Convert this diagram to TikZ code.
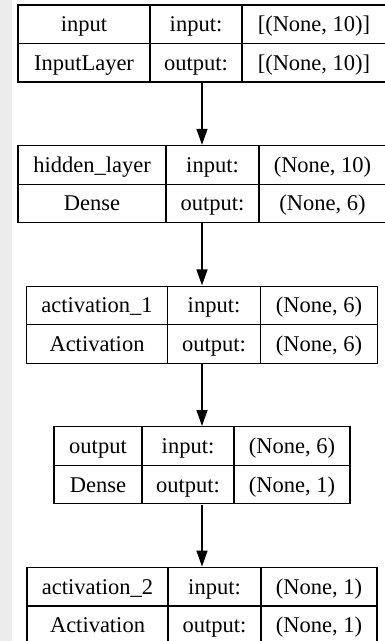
\documentclass[tikz,border=0pt]{standalone}
\usepackage{fontspec}
\setmainfont{Liberation Serif}
\newfontfamily\cellfont{Liberation Serif}
\usetikzlibrary{arrows.meta, positioning, matrix}
\definecolor{sidegray}{HTML}{ECECEC}

\begin{document}
\begin{tikzpicture}[
    x=1pt, y=-1pt,
    node distance=62pt,
    cell/.style={draw, line width=1.2pt, inner sep=0pt, outer sep=0pt, anchor=center, minimum height=38.5pt, text height=20pt, text depth=5pt, font=\cellfont\fontsize{22.5}{27}\selectfont},
    layer/.style={matrix of nodes, inner sep=0pt, column sep=-1.2pt, row sep=-1.2pt, nodes={cell}},
    widths/.style n args={3}{column 1/.style={nodes={minimum width=#1}}, column 2/.style={nodes={minimum width=#2}}, column 3/.style={nodes={minimum width=#3}}},
    arrow/.style={-{Triangle[length=16pt, width=11pt]}, line width=1.3pt}
]

% Page
\useasboundingbox (0,0) rectangle (384,641);
\fill[white] (0,0) rectangle (384,641);
\fill[sidegray] (0,0) rectangle (12,641);

% Layers
\matrix[layer, widths={132pt}{92pt}{144pt}] (input) at (202,43.5) {
    input & input: & {[(None, 10)]} \\
    InputLayer & output: & {[(None, 10)]} \\
};
\matrix[layer, widths={148pt}{93pt}{127pt}, below=of input] (hidden) {
    hidden\_layer & input: & (None, 10) \\
    Dense & output: & (None, 6) \\
};
\matrix[layer, widths={141pt}{93pt}{117pt}, below=of hidden] (act1) {
    activation\_1 & input: & (None, 6) \\
    Activation & output: & (None, 6) \\
};
\matrix[layer, widths={88pt}{92pt}{116pt}, below=of act1] (output) {
    output & input: & (None, 6) \\
    Dense & output: & (None, 1) \\
};
\matrix[layer, widths={141pt}{93pt}{116pt}, below=of output] (act2) {
    activation\_2 & input: & (None, 1) \\
    Activation & output: & (None, 1) \\
};

% Arrows
\draw[arrow] (input) -- (hidden);
\draw[arrow] (hidden) -- (act1);
\draw[arrow] (act1) -- (output);
\draw[arrow] (output) -- (act2);

\end{tikzpicture}
\end{document}
